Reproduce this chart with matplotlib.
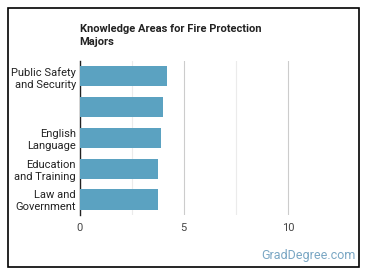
import matplotlib
matplotlib.use("Agg")
import matplotlib.pyplot as plt
from matplotlib.patches import Rectangle

plt.rcParams['font.family'] = ['Roboto', 'DejaVu Sans']

categories = ["Public Safety\nand Security", "", "English\nLanguage",
              "Education\nand Training", "Law and\nGovernment"]
values = [4.2, 4.0, 3.9, 3.77, 3.77]

fig = plt.figure(figsize=(3.7, 2.78), dpi=100)
ax = fig.add_axes([0.215, 0.227, 0.704, 0.554])

ax.barh(range(len(values)), values, height=0.65, color="#5ba2c1", zorder=3)
ax.set_ylim(4.5, -0.5)
ax.set_xlim(0, 12.5)
ax.set_yticks(range(len(categories)))
ax.set_yticklabels(categories, fontsize=8, color="#222222", linespacing=1.25)
ax.set_xticks([0, 5, 10])
ax.set_xticklabels(["0", "5", "10"], fontsize=8, color="#444444")
for x in [2.5, 7.5]:
    ax.axvline(x, color="#ebebeb", lw=0.8, zorder=1)
for x in [5, 10]:
    ax.axvline(x, color="#cccccc", lw=0.8, zorder=1)
ax.tick_params(axis="x", length=0, pad=6)
ax.tick_params(axis="y", length=0, pad=2.5)
for s in ["top", "right", "bottom"]:
    ax.spines[s].set_visible(False)
ax.spines["left"].set_color("#222222")
ax.spines["left"].set_linewidth(1)

fig.text(0.215, 0.872, "Knowledge Areas for Fire Protection\nMajors", fontsize=8,
         fontweight="bold", color="#222222", va="center", ha="left", linespacing=1.4)
fig.text(0.96, 0.08, "GradDegree.com", fontsize=9, color="#7aa7c4", ha="right", va="center")

fig.patches.append(Rectangle((8/370, 11/278), 351/370, 259/278, transform=fig.transFigure,
                             fill=False, edgecolor="black", lw=1.2))

fig.savefig("out.png", dpi=100)
